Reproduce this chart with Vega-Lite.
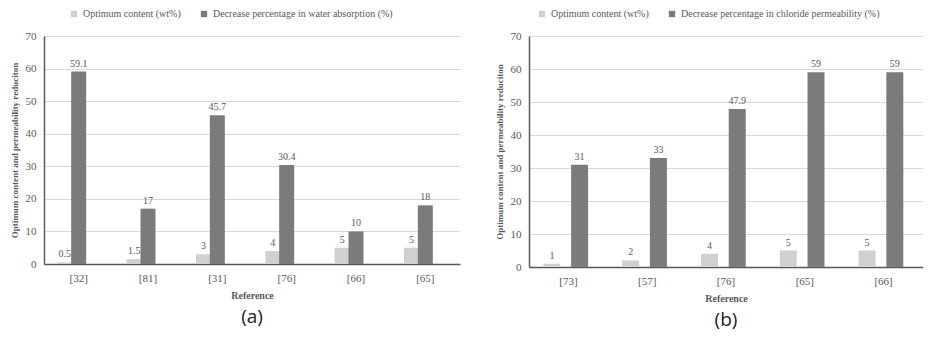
{
  "$schema": "https://vega.github.io/schema/vega-lite/v6.json",
  "padding": {"left": 10, "top": 9, "right": 0, "bottom": 3},
  "spacing": 35,
  "background": "white",
  "config": {
    "view": {"stroke": null},
    "font": "Liberation Serif",
    "axis": {"labelColor": "#595959", "titleColor": "#595959", "labelFont": "Liberation Serif", "titleFont": "Liberation Serif", "gridColor": "#d9d9d9", "domainColor": "#595959", "domainWidth": 1.5},
    "legend": {"labelColor": "#595959", "labelFont": "Liberation Serif", "labelFontSize": 10, "labelLimit": 0, "symbolType": "square", "symbolSize": 40, "direction": "horizontal", "title": null, "columnPadding": 18, "padding": 0},
    "title": {"font": "Open Sans", "fontSize": 19, "fontWeight": "normal", "color": "#222222", "orient": "bottom", "offset": 8}
  },
  "datasets": {
    "a": [
      {"ref": "[32]", "series": "Optimum content (wt%)", "value": 0.5},
      {"ref": "[32]", "series": "Decrease percentage in water absorption (%)", "value": 59.1},
      {"ref": "[81]", "series": "Optimum content (wt%)", "value": 1.5},
      {"ref": "[81]", "series": "Decrease percentage in water absorption (%)", "value": 17},
      {"ref": "[31]", "series": "Optimum content (wt%)", "value": 3},
      {"ref": "[31]", "series": "Decrease percentage in water absorption (%)", "value": 45.7},
      {"ref": "[76]", "series": "Optimum content (wt%)", "value": 4},
      {"ref": "[76]", "series": "Decrease percentage in water absorption (%)", "value": 30.4},
      {"ref": "[66]", "series": "Optimum content (wt%)", "value": 5},
      {"ref": "[66]", "series": "Decrease percentage in water absorption (%)", "value": 10},
      {"ref": "[65]", "series": "Optimum content (wt%)", "value": 5},
      {"ref": "[65]", "series": "Decrease percentage in water absorption (%)", "value": 18}
    ],
    "b": [
      {"ref": "[73]", "series": "Optimum content (wt%)", "value": 1},
      {"ref": "[73]", "series": "Decrease percentage in chloride permeability (%)", "value": 31},
      {"ref": "[57]", "series": "Optimum content (wt%)", "value": 2},
      {"ref": "[57]", "series": "Decrease percentage in chloride permeability (%)", "value": 33},
      {"ref": "[76]", "series": "Optimum content (wt%)", "value": 4},
      {"ref": "[76]", "series": "Decrease percentage in chloride permeability (%)", "value": 47.9},
      {"ref": "[65]", "series": "Optimum content (wt%)", "value": 5},
      {"ref": "[65]", "series": "Decrease percentage in chloride permeability (%)", "value": 59},
      {"ref": "[66]", "series": "Optimum content (wt%)", "value": 5},
      {"ref": "[66]", "series": "Decrease percentage in chloride permeability (%)", "value": 59}
    ]
  },
  "resolve": {"scale": {"color": "independent"}},
  "hconcat": [
    {
      "title": {"text": "(a)"},
      "width": 416,
      "height": 228,
      "data": {"name": "a"},
      "encoding": {
        "x": {"field": "ref", "type": "nominal", "sort": ["[32]", "[81]", "[31]", "[76]", "[66]", "[65]"], "scale": {"paddingInner": 0.44, "paddingOuter": 0.22}, "axis": {"title": "Reference", "titleFontSize": 10, "titleFontWeight": "bold", "labelFontSize": 11, "labelAngle": 0, "ticks": false, "labelPadding": 8, "titlePadding": 7}},
        "xOffset": {"field": "series", "type": "nominal", "sort": ["Optimum content (wt%)", "Decrease percentage in water absorption (%)"], "scale": {"paddingInner": 0.2, "paddingOuter": 0}},
        "y": {"field": "value", "type": "quantitative", "scale": {"domain": [0, 70]}, "axis": {"title": "Optimum content and permeability reduciton", "titleFontSize": 9, "titleFontWeight": "bold", "labelFontSize": 11, "tickCount": 7, "ticks": false, "labelPadding": 8, "titlePadding": 6, "domain": true}}
      },
      "layer": [
        {
          "mark": {"type": "bar", "width": 15},
          "encoding": {
            "color": {"field": "series", "type": "nominal", "sort": ["Optimum content (wt%)", "Decrease percentage in water absorption (%)"], "scale": {"range": ["#d0d0d0", "#7b7b7b"]}, "legend": {"orient": "none", "legendX": 25, "legendY": -27, "labelFont": "Liberation Serif", "labelFontSize": 10, "direction": "horizontal"}}
          }
        },
        {
          "mark": {"type": "text", "dy": -8, "fontSize": 10, "color": "#595959", "font": "Liberation Serif"},
          "encoding": {"text": {"field": "value", "type": "quantitative"}}
        }
      ]
    },
    {
      "title": {"text": "(b)"},
      "width": 394,
      "height": 231,
      "data": {"name": "b"},
      "encoding": {
        "x": {"field": "ref", "type": "nominal", "sort": ["[73]", "[57]", "[76]", "[65]", "[66]"], "scale": {"paddingInner": 0.44, "paddingOuter": 0.22}, "axis": {"title": "Reference", "titleFontSize": 10, "titleFontWeight": "bold", "labelFontSize": 11, "labelAngle": 0, "ticks": false, "labelPadding": 8, "titlePadding": 7}},
        "xOffset": {"field": "series", "type": "nominal", "sort": ["Optimum content (wt%)", "Decrease percentage in chloride permeability (%)"], "scale": {"paddingInner": 0.15, "paddingOuter": 0}},
        "y": {"field": "value", "type": "quantitative", "scale": {"domain": [0, 70]}, "axis": {"title": "Optimum content and permeability reduciton", "titleFontSize": 9, "titleFontWeight": "bold", "labelFontSize": 11, "tickCount": 7, "ticks": false, "labelPadding": 8, "titlePadding": 6, "domain": true}}
      },
      "layer": [
        {
          "mark": {"type": "bar", "width": 17},
          "encoding": {
            "color": {"field": "series", "type": "nominal", "sort": ["Optimum content (wt%)", "Decrease percentage in chloride permeability (%)"], "scale": {"range": ["#d0d0d0", "#7b7b7b"]}, "legend": {"orient": "none", "legendX": 8, "legendY": -27, "labelFont": "Liberation Serif", "labelFontSize": 10, "direction": "horizontal"}}
          }
        },
        {
          "mark": {"type": "text", "dy": -8, "fontSize": 10, "color": "#595959", "font": "Liberation Serif"},
          "encoding": {"text": {"field": "value", "type": "quantitative"}}
        }
      ]
    }
  ]
}
